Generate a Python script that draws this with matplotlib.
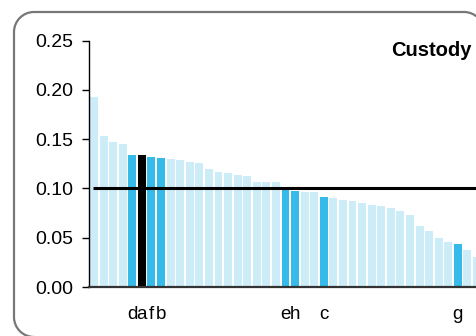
import matplotlib
matplotlib.use('Agg')
import matplotlib.pyplot as plt
from matplotlib.path import Path
from matplotlib.patches import PathPatch

plt.rcParams['font.family'] = ['Liberation Sans', 'DejaVu Sans']

# values (sorted, descending)
values = [0.193, 0.153, 0.1475, 0.1455, 0.134, 0.134, 0.132, 0.131, 0.130, 0.129,
          0.127, 0.126, 0.120, 0.117, 0.116, 0.114, 0.1125, 0.1065, 0.1065, 0.1065,
          0.1005, 0.097, 0.096, 0.096, 0.091, 0.090, 0.088, 0.087, 0.085, 0.083,
          0.082, 0.080, 0.077, 0.073, 0.062, 0.057, 0.0495, 0.0455, 0.0435, 0.038,
          0.030]
labels = ['', '', '', '', 'd', 'a', 'f', 'b', '', '',
          '', '', '', '', '', '', '', '', '', '',
          'e', 'h', '', '', 'c', '', '', '', '', '',
          '', '', '', '', '', '', '', '', 'g', '',
          '']
focus = 'a'
threshold = 0.10
yticks = [0.00, 0.05, 0.10, 0.15, 0.20, 0.25]
title = 'Custody'

colors = []
for lab in labels:
    if lab == focus:
        colors.append('#000000')
    elif lab:
        colors.append('#35BAEA')
    else:
        colors.append('#CCECF8')

fig = plt.figure(figsize=(4.77, 3.36), dpi=100)

# rounded frame, drawn in pixel units on a background axes
bg = fig.add_axes([0, 0, 1, 1])
bg.set_xlim(0, 477)
bg.set_ylim(0, 336)
bg.axis('off')
L, R, T, B, r = 14, 484, 324, -1, 20
k = 0.5523 * r
verts = [(L + r, B),
         (L + r - k, B), (L, B + r - k), (L, B + r),
         (L, T - r),
         (L, T - r + k), (L + r - k, T), (L + r, T),
         (R - r, T),
         (R - r + k, T), (R, T - r + k), (R, T - r),
         (R, B + r)]
codes = [Path.MOVETO,
         Path.CURVE4, Path.CURVE4, Path.CURVE4,
         Path.LINETO,
         Path.CURVE4, Path.CURVE4, Path.CURVE4,
         Path.LINETO,
         Path.CURVE4, Path.CURVE4, Path.CURVE4,
         Path.LINETO]
bg.add_patch(PathPatch(Path(verts, codes), facecolor='none', edgecolor='#777777',
                       linewidth=1.6, clip_on=False))

ax = fig.add_axes([89.5 / 477, 1 - 287 / 336, 1 - 89.5 / 477, (287 - 40.7) / 336])
ax.patch.set_alpha(0)

x = list(range(len(values)))
ax.bar(x, values, width=0.83, color=colors, zorder=2)
ax.hlines(threshold, -0.1, len(values) + 5, color='black', linewidth=2.2, zorder=3)

ax.set_xlim(-0.47, 39.77)
ax.set_ylim(0, 0.25)
ax.set_yticks(yticks)
ax.set_yticklabels(['%.2f' % v for v in yticks], fontsize=14)
ax.tick_params(axis='y', direction='out', length=5, width=1, pad=7)
ax.set_xticks(x)
ax.set_xticklabels(labels, fontsize=13.5)
ax.tick_params(axis='x', length=0, pad=14)

for s in ['top', 'right']:
    ax.spines[s].set_visible(False)
ax.spines['left'].set_linewidth(1)
ax.spines['bottom'].set_linewidth(1.6)
ax.spines['bottom'].set_color('#333333')
ax.spines['bottom'].set_zorder(4)

fig.text(472 / 477, 1 - 51 / 336, title, fontsize=14.5, fontweight='bold',
         ha='right', va='center')

fig.savefig('out.png', dpi=100)
